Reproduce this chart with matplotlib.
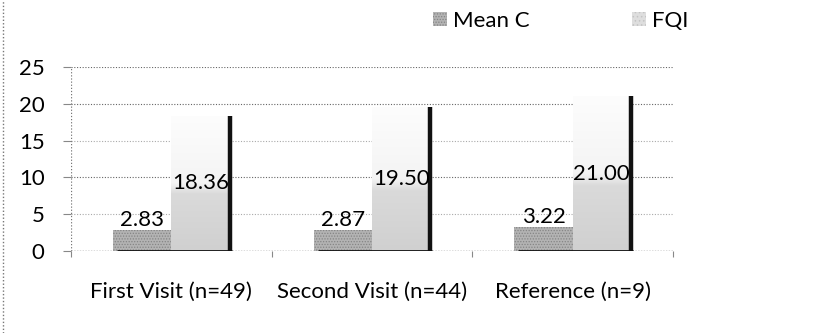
import numpy as np
import matplotlib.pyplot as plt
from matplotlib.colors import LinearSegmentedColormap
from matplotlib.lines import Line2D
from matplotlib.patches import Patch

categories = ['First Visit (n=49)', 'Second Visit (n=44)', 'Reference (n=9)']
mean_c = [2.83, 2.87, 3.22]
fqi = [18.36, 19.50, 21.00]
y_ticks = [0, 5, 10, 15, 20, 25]

plt.rcParams['font.family'] = ['Lato', 'DejaVu Sans']
plt.rcParams['hatch.linewidth'] = 0.6

fig = plt.figure(figsize=(8.17, 3.33), dpi=100)
ax = fig.add_axes([71/817, 82/333, 602/817, 184/333])

x = np.arange(len(categories))
w = 0.29

# light fade for the FQI columns (the scan lost most of it)
fade = LinearSegmentedColormap.from_list(
    'fade', [(0, '#d0d0d0'), (0.42, '#dadada'), (0.5, '#f4f4f4'), (1, '#fdfdfd')])
grad = np.linspace(0, 1, 256).reshape(-1, 1)

# gridlines, dense/sparse like the scan
for t in y_ticks[1:]:
    c = '#666666' if t % 10 == 0 or t == 25 else '#aaaaaa'
    ax.axhline(t, color=c, ls=(0, (1, 1.5)), lw=0.8, zorder=0)

mc_bars = ax.bar(x - w/2, mean_c, w, color='#b3b3b3', hatch='......',
                 edgecolor='#858585', lw=0, zorder=2)
fq_bars = ax.bar(x + w/2, fqi, w, color='none', lw=0, zorder=2)
for b, v in zip(fq_bars, fqi):
    x0 = b.get_x()
    im = ax.imshow(grad, extent=[x0, x0 + w, 0, v], origin='lower',
                   cmap=fade, aspect='auto', zorder=1.5)
    im.set_clip_path(b)

# dark right edge and base of each cluster
ax.vlines(x + w, 0, fqi, color='#111111', lw=3.2, zorder=3)
ax.hlines([0]*len(x), x - w + 0.02, x + w + 0.01, color='#111111', lw=2, zorder=3)

for xi, v in zip(x, mean_c):
    ax.text(xi - w/2, v, f'{v:.2f}', ha='center', va='bottom', fontsize=16, zorder=4)
for xi, v in zip(x, fqi):
    ax.text(xi + w/2, v/2, f'{v:.2f}', ha='center', va='center', fontsize=16, zorder=4)

ax.set_xlim(-0.5, 2.5)
ax.set_ylim(0, 25)
for s in ax.spines.values():
    s.set_visible(False)
ax.axvline(-0.5, color='#777777', ls=(0, (1, 1.5)), lw=0.9, zorder=0)
ax.axhline(0, color='#555555', ls=(0, (1, 1)), lw=1, zorder=0)

ax.set_yticks(y_ticks)
ax.tick_params(axis='y', length=6, width=0.8, color='#888888', pad=13, labelsize=16)
ax.set_xticks(x)
ax.set_xticklabels(categories)
ax.set_xticks([-0.5, 0.5, 1.5, 2.5], minor=True)
ax.tick_params(axis='x', which='major', length=0, pad=22, labelsize=16)
ax.tick_params(axis='x', which='minor', length=4, width=0.8, color='#888888')

handles = [Patch(facecolor='#b3b3b3', hatch='......', edgecolor='#858585', lw=0),
           Patch(facecolor='#dedede', hatch='....', edgecolor='#c4c4c4', lw=0)]
fig.legend(handles, ['Mean C', 'FQI'], ncol=2, frameon=False, fontsize=16,
           loc='center', bbox_to_anchor=(561/817, 1 - 21/333),
           handlelength=0.6, handleheight=0.6, handletextpad=0.3, columnspacing=4.6)

fig.add_artist(Line2D([3/817, 3/817], [0, 1], ls=(0, (1, 1.5)), color='#777777', lw=1))

fig.savefig('out.png', dpi=100)
